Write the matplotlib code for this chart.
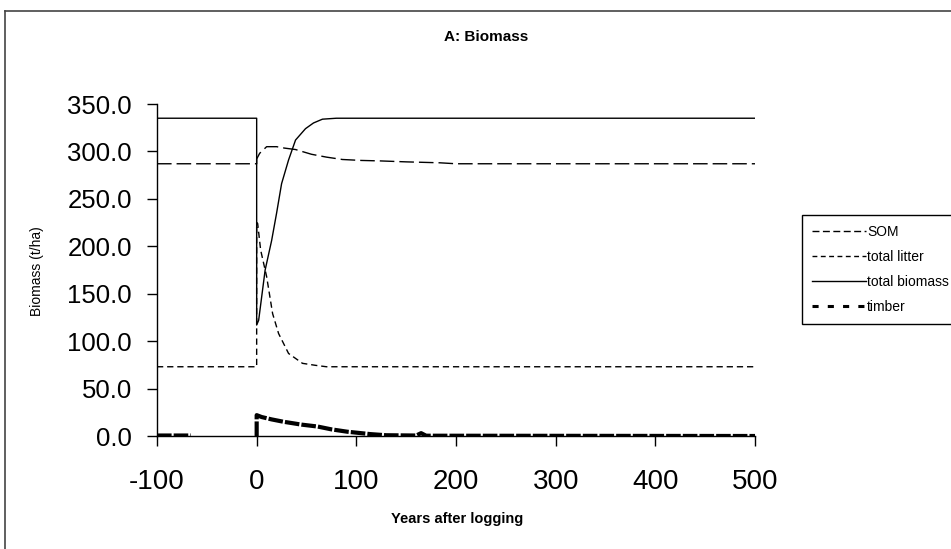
import numpy as np
import matplotlib
matplotlib.use("Agg")
import matplotlib.pyplot as plt
from matplotlib.lines import Line2D

plt.rcParams['font.family'] = ['Liberation Sans', 'DejaVu Sans']

# ---- data ----
som_years = [-100, 0, 0, 3, 10, 20, 28, 39, 55, 70, 86, 105, 124, 150, 184, 200, 300, 400, 500]
som_vals = [287, 287, 292, 298, 305, 305, 303.5, 302, 297, 294, 291.5, 290.5, 290, 289, 288, 287, 287, 287, 287]

litter_years = [-100, 0, 0, 1, 4, 10, 16, 22, 32, 46, 59, 70, 100, 500]
litter_vals = [73, 73, 225, 224, 196, 168, 129, 108, 87, 76.6, 74.5, 73, 73, 73]

biomass_years = [-100, 0, 0, 2, 8.5, 15, 20, 25, 32, 39, 49, 57, 66, 80, 100, 500]
biomass_vals = [335, 335, 117, 122, 175, 206, 235, 266, 291, 312, 324, 330, 334, 335, 335, 335]

timber_years = [-100, -66, np.nan, 0, 0, 5, 15, 27, 45, 61, 75, 91, 114, 130, 160, 165, 170, 500]
timber_vals = [0.5, 0.5, np.nan, 0, 22, 20, 17.5, 15, 12, 10, 7, 4.5, 2, 0.8, 0.5, 3, 0.3, 0]

series_labels = ['SOM', 'total litter', 'total biomass', 'timber']
title = 'A: Biomass'
xlabel = 'Years after logging'
ylabel = 'Biomass (t/ha)'
xticks = [-100, 0, 100, 200, 300, 400, 500]
yticks = [0, 50, 100, 150, 200, 250, 300, 350]

# ---- figure ----
W, H = 951, 549
fig = plt.figure(figsize=(W / 100, H / 100), dpi=100)
fig.patch.set_facecolor('white')

# outer frame (top and left edges visible)
fig.add_artist(Line2D([5 / W, 5 / W], [0, 1 - 11 / H], color='#444444', lw=1.2))
fig.add_artist(Line2D([5 / W, 1], [1 - 11 / H, 1 - 11 / H], color='#444444', lw=1.2))

ax = fig.add_axes([157 / W, 1 - 436 / H, (755 - 157) / W, (436 - 104) / H])

l_som, = ax.plot(som_years, som_vals, color='black', lw=1.0, dashes=(10.5, 3.6))
l_lit, = ax.plot(litter_years, litter_vals, color='black', lw=1.0, dashes=(4.5, 2.8))
l_bio, = ax.plot(biomass_years, biomass_vals, color='black', lw=1.0)
l_tim, = ax.plot(timber_years, timber_vals, color='black', lw=3.0, dashes=(3.5, 0.5))

ax.set_xlim(-100, 500)
ax.set_ylim(0, 350)
ax.set_xticks(xticks)
ax.set_xticklabels([str(v) for v in xticks])
ax.set_yticks(yticks)
ax.set_yticklabels([f"{v:.1f}" for v in yticks])
for s in ['top', 'right']:
    ax.spines[s].set_visible(False)
for s in ['left', 'bottom']:
    ax.spines[s].set_linewidth(1.0)
ax.tick_params(axis='y', direction='out', length=7, width=1, labelsize=18.5, pad=11)
ax.tick_params(axis='x', direction='out', length=7, width=1, labelsize=20, pad=17)
ax.patch.set_alpha(0)

fig.text(486 / W, 1 - 37 / H, title, ha='center', va='center', fontsize=11, fontweight='bold')
fig.text(457 / W, 1 - 519 / H, xlabel, ha='center', va='center', fontsize=10.5, fontweight='bold')
fig.text(37.5 / W, 1 - 271 / H, ylabel, ha='center', va='center', fontsize=10, rotation=90)

handles = [
    Line2D([], [], color='black', lw=1.0, dashes=(5, 2.5)),
    Line2D([], [], color='black', lw=1.0, dashes=(3.5, 2.5)),
    Line2D([], [], color='black', lw=1.0),
    Line2D([], [], color='black', lw=2.2, dashes=(2, 3)),
]
leg = fig.legend(handles, series_labels, loc='upper left',
                 bbox_to_anchor=(802 / W, 1 - 215 / H), bbox_transform=fig.transFigure,
                 fontsize=10, frameon=True, fancybox=False, framealpha=1,
                 edgecolor='black', handlelength=3.9, handletextpad=0.1,
                 labelspacing=0.8, borderpad=0.7, borderaxespad=0)
leg.get_frame().set_linewidth(1.0)

fig.savefig('out.png', dpi=100)
